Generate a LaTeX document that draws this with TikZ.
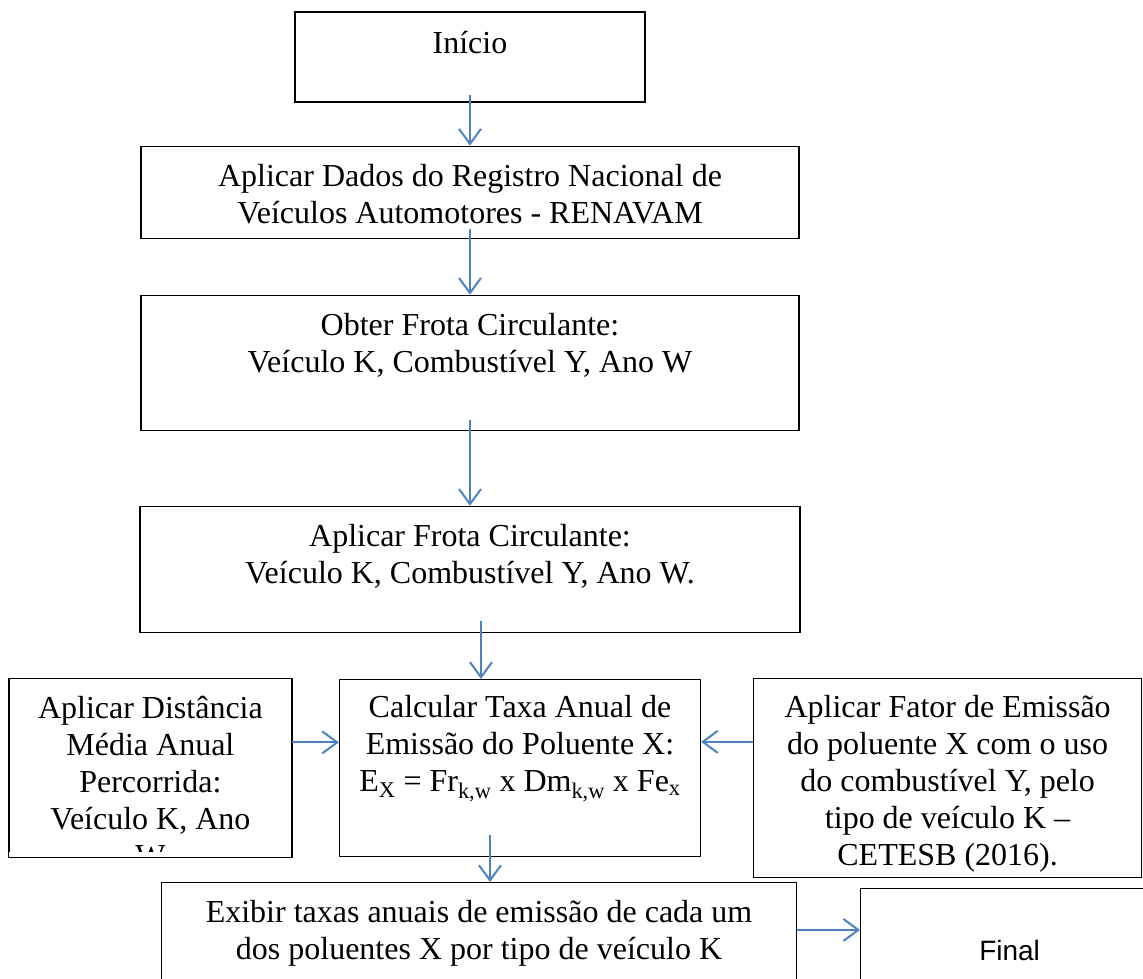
\documentclass[tikz,border=0pt]{standalone}
\usepackage{fontspec}
\setmainfont{Liberation Serif}
\newfontfamily\arialfont{Liberation Sans}
\usetikzlibrary{shapes,positioning,arrows.meta}
\definecolor{arrowblue}{RGB}{79,129,189}

\begin{document}
\begin{tikzpicture}[x=1pt,y=-1pt,
    font=\fontsize{32}{37}\selectfont,
    box/.style={draw, rectangle, line width=1.1pt, inner sep=0pt, align=center},
    arr/.style={draw=arrowblue, line width=2pt, -{Straight Barb[length=15pt,width=22pt]}}]

\clip (0,0) rectangle (1143,978);

% Start block
\node[box,
    minimum width=350pt,
    text height=41pt,
    text depth=49pt] (block1) at (470,57) {Início};

% RENAVAM data
\node[box,
    below=43pt of block1,
    minimum width=658pt,
    text height=77pt,
    text depth=15pt] (block2) {Aplicar Dados do Registro Nacional de\\Veículos Automotores - RENAVAM};

% Circulating fleet
\node[box,
    below=56pt of block2,
    minimum width=658pt,
    text height=77pt,
    text depth=58pt] (block3) {Obter Frota Circulante:\\Veículo K, Combustível Y, Ano W};

\node[box,
    below=75pt of block3,
    minimum width=660pt,
    text height=77pt,
    text depth=49pt] (block4) {Aplicar Frota Circulante:\\Veículo K, Combustível Y, Ano W.};

% Emission rate
\node[box,
    below=46pt of block4,
    xshift=50pt,
    minimum width=361pt,
    text height=112pt,
    text depth=65pt] (block5) {Calcular Taxa Anual de\\Emissão do Poluente X:\\E\textsubscript{X} = Fr\textsubscript{k,w} x Dm\textsubscript{k,w} x Fe\textsubscript{x}};

% Emission factor
\node[box,
    right=52pt of block5,
    yshift=-10pt,
    minimum width=388pt,
    text height=187pt,
    text depth=12pt] (block6) {Aplicar Fator de Emissão\\do poluente X com o uso\\do combustível Y, pelo\\tipo de veículo K --\\CETESB (2016).};

% Mean distance (text runs past the box)
\begin{scope}
\clip ([xshift=-400pt,yshift=20pt]block5.north west) rectangle ([xshift=-47pt,yshift=5pt]block5.south west);
\node[box,
    left=47pt of block5,
    minimum width=282pt,
    text height=178pt,
    text depth=0pt] (block7) {Aplicar Distância\\Média Anual\\Percorrida:\\Veículo K, Ano\\W\\[-47pt]\mbox{}};
\end{scope}
\draw[line width=1.1pt] (block7.south west) rectangle (block7.north east);

% Output
\node[box,
    below=25pt of block5,
    xshift=-41pt,
    minimum width=635pt,
    text height=77pt,
    text depth=33pt] (block8) {Exibir taxas anuais de emissão de cada um\\dos poluentes X por tipo de veículo K};

\node[box,
    right=63pt of block8,
    yshift=-6pt,
    minimum width=298pt,
    text height=72pt,
    text depth=38pt,
    font=\arialfont\fontsize{28}{32}\selectfont] (block9) {Final};

% Arrows
\draw[arr] ([yshift=8pt]block1.south) -- (block1.south |- block2.north);
\draw[arr] ([yshift=10pt]block2.south) -- (block2.south |- block3.north);
\draw[arr] ([yshift=11pt]block3.south) -- (block3.south |- block4.north);
\draw[arr] ([xshift=11pt,yshift=12pt]block4.south) -- ([xshift=11pt]block4.south |- block5.north);
\draw[arr] ([xshift=-30pt,yshift=22pt]block5.south) -- ([xshift=-30pt]block5.south |- block8.north);
\draw[arr] ([yshift=-64pt]block7.north east) -- ([yshift=-64pt]block7.north east -| block5.west);
\draw[arr] ([yshift=-64pt]block6.north west) -- ([yshift=-64pt]block6.north west -| block5.east);
\draw[arr] ([yshift=-48pt]block8.north east) -- ([yshift=-48pt]block8.north east -| block9.west);

\end{tikzpicture}
\end{document}
